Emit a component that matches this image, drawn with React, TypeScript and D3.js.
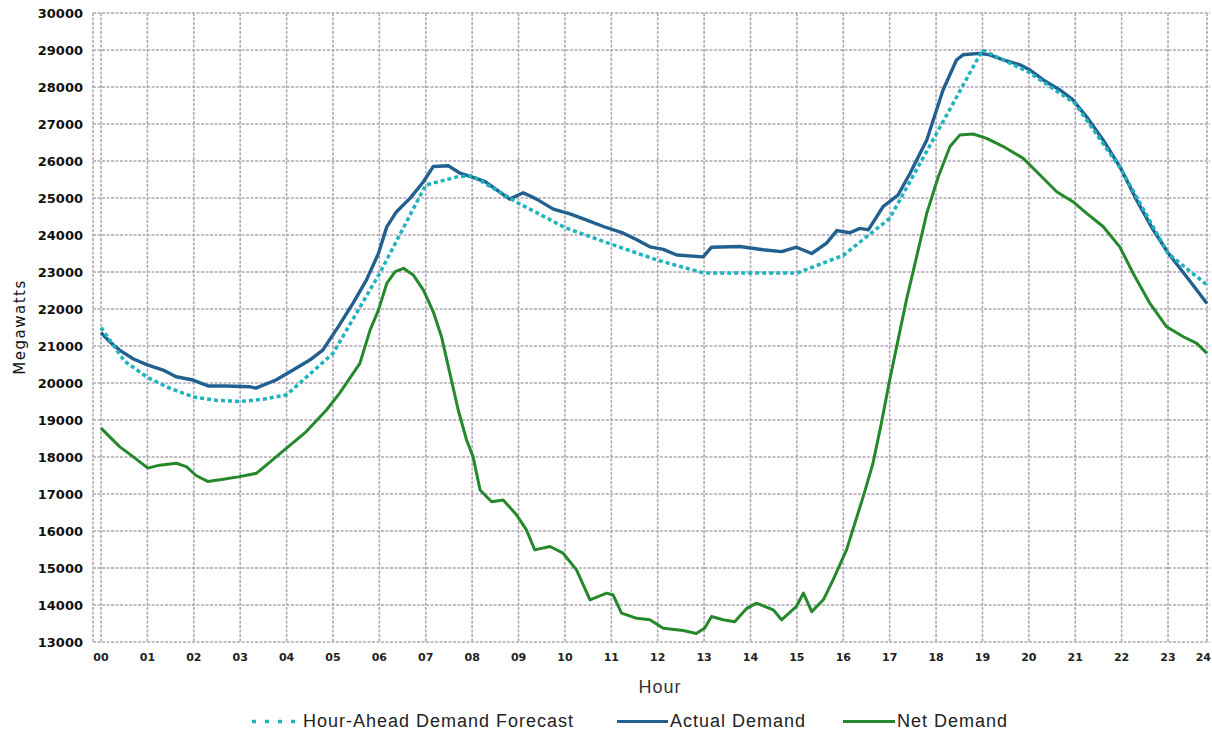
import React from "react";
import * as d3 from "d3";

const xTickLabels = ["00","01","02","03","04","05","06","07","08","09","10","11","12","13","14","15","16","17","18","19","20","21","22","23","24"];
const yTickValues = [13000,14000,15000,16000,17000,18000,19000,20000,21000,22000,23000,24000,25000,26000,27000,28000,29000,30000];

const forecastHours = [0,0.5,1,1.5,2,2.5,3,3.5,4,5,6,7,7.7,8,9,10,11,12,13,14,15,16,17,18,19,20,21,22,23,23.84];
const forecastValues = [21500,20600,20150,19850,19620,19530,19500,19560,19680,20800,22950,25350,25580,25600,24860,24200,23750,23320,22970,22970,22970,23450,24450,26720,29000,28400,27550,25750,23500,22650];

const actualHours = [0,0.2,0.4,0.7,1.0,1.34,1.62,1.98,2.31,2.7,3.2,3.34,3.77,4.14,4.5,4.78,5.14,5.43,5.72,5.98,6.16,6.37,6.66,6.95,7.16,7.49,7.74,8.02,8.28,8.53,8.81,9.10,9.39,9.75,10.11,10.47,10.83,11.26,11.55,11.83,12.12,12.41,12.98,13.16,13.77,14.27,14.67,14.99,15.32,15.64,15.86,16.14,16.36,16.54,16.86,17.18,17.44,17.80,18.15,18.44,18.58,18.94,19.16,19.45,19.81,20.02,20.31,20.67,20.95,21.24,21.60,21.96,22.32,22.68,23.01,23.40,23.84];
const actualValues = [21360,21100,20890,20650,20490,20350,20170,20080,19920,19920,19900,19860,20080,20350,20620,20890,21570,22150,22780,23500,24220,24630,24990,25440,25850,25870,25670,25560,25440,25220,24970,25140,24970,24700,24570,24400,24230,24050,23870,23680,23610,23460,23410,23670,23690,23600,23550,23670,23500,23780,24120,24060,24180,24140,24770,25080,25670,26570,27920,28730,28870,28910,28870,28730,28600,28460,28190,27920,27650,27200,26570,25850,24950,24140,23500,22870,22150];

const netHours = [0,0.4,0.69,1.01,1.26,1.62,1.84,2.05,2.3,2.6,2.99,3.35,3.78,4.42,4.86,5.14,5.58,5.80,5.98,6.16,6.34,6.52,6.73,6.95,7.16,7.34,7.52,7.70,7.88,8.02,8.17,8.42,8.67,8.96,9.17,9.35,9.68,9.96,10.25,10.54,10.90,11.04,11.22,11.55,11.83,12.12,12.55,12.83,13.01,13.16,13.41,13.66,13.92,14.13,14.49,14.67,14.99,15.14,15.32,15.57,15.78,16.07,16.25,16.43,16.64,16.82,17.00,17.18,17.36,17.58,17.80,18.05,18.30,18.51,18.80,19.09,19.45,19.88,20.24,20.60,20.95,21.24,21.60,21.96,22.25,22.61,22.97,23.33,23.62,23.84];
const netValues = [18780,18280,18010,17700,17780,17830,17740,17500,17340,17390,17470,17560,18010,18680,19270,19720,20530,21430,21970,22690,23010,23100,22920,22510,21930,21250,20260,19270,18460,18010,17110,16790,16840,16430,16030,15490,15580,15400,14950,14140,14320,14270,13780,13640,13600,13370,13310,13230,13370,13690,13600,13550,13910,14050,13870,13600,13960,14320,13820,14140,14680,15490,16210,16930,17830,18910,20080,21160,22240,23410,24590,25580,26390,26700,26730,26610,26390,26070,25620,25170,24900,24590,24230,23680,22960,22150,21520,21250,21070,20800];

const seriesNames = ["Hour-Ahead Demand Forecast", "Actual Demand", "Net Demand"];

const W = 1212, H = 731;
const plotLeft = 93, plotRight = 1210, plotTop = 13, plotBottom = 642;
const xStart = 101, xEnd = 1207;
const lastHour = 23.84;

const C_FORE = "#1fb3bd";
const C_ACT = "#22608f";
const C_NET = "#25892b";
const C_GRID = "#b0a8b6";

export default function App() {
  const x = d3.scaleLinear().domain([0, lastHour]).range([xStart, xEnd]);
  const y = d3.scaleLinear().domain([13000, 30000]).range([plotBottom, plotTop]);
  const tickHours = xTickLabels.map((_, i) => (i < 24 ? i : lastHour));

  const mk = (hs: number[], vs: number[]) =>
    d3.line<number>().x((_, i) => x(hs[i])).y((v) => y(v)).curve(d3.curveLinear)(vs) || "";

  const fPath = mk(forecastHours, forecastValues);
  const aPath = mk(actualHours, actualValues);
  const nPath = mk(netHours, netValues);

  const legendFont = { fontFamily: "'Liberation Sans', Arial, sans-serif", fontSize: 18, letterSpacing: 1, fill: "#222" };

  return (
    <svg width={W} height={H} style={{ position: "absolute", left: 0, top: 0, background: "#fff" }}>
      <rect x={0} y={0} width={W} height={H} fill="#fff" />
      {/* grid */}
      {yTickValues.map((v) => (
        <line key={"h" + v} x1={plotLeft} x2={plotRight} y1={y(v)} y2={y(v)} stroke={C_GRID} strokeWidth={1.6} strokeDasharray="3 1.5" />
      ))}
      {tickHours.map((h, i) => (
        <line key={"v" + i} x1={x(h)} x2={x(h)} y1={plotTop} y2={plotBottom} stroke={C_GRID} strokeWidth={1.6} strokeDasharray="3 1.5" />
      ))}
      <line x1={plotLeft} x2={plotLeft} y1={plotTop} y2={plotBottom} stroke={C_GRID} strokeWidth={1.6} strokeDasharray="3 1.5" />

      {/* y labels */}
      {yTickValues.map((v) => (
        <text key={"yl" + v} x={83} y={y(v) + 5} textAnchor="end" fontFamily="'DejaVu Sans', sans-serif" fontWeight="bold" fontSize={13} fill="#111">
          {d3.format("d")(v)}
        </text>
      ))}
      {/* x labels */}
      {tickHours.map((h, i) => (
        <text key={"xl" + i} x={i < 24 ? x(h) : 1211} y={661} textAnchor={i < 24 ? "middle" : "end"} fontFamily="'DejaVu Sans', sans-serif" fontWeight="bold" fontSize={11} fill="#222">
          {xTickLabels[i]}
        </text>
      ))}

      {/* axis titles */}
      <text transform="translate(25,327) rotate(-90)" textAnchor="middle" fontFamily="'DejaVu Sans', sans-serif" fontSize={15} letterSpacing={1.5} fill="#111">
        Megawatts
      </text>
      <text x={660} y={693} textAnchor="middle" {...legendFont} fill="#333">Hour</text>

      {/* series */}
      <path d={nPath} fill="none" stroke={C_NET} strokeWidth={3} strokeLinejoin="round" />
      <path d={aPath} fill="none" stroke={C_ACT} strokeWidth={3.4} strokeLinejoin="round" />
      <path d={fPath} fill="none" stroke={C_FORE} strokeWidth={3.5} strokeDasharray="4 3" />

      {/* legend */}
      <line x1={252} x2={302} y1={721.5} y2={721.5} stroke={C_FORE} strokeWidth={3.5} strokeDasharray="4 9" />
      <text x={303} y={727} {...legendFont}>{seriesNames[0]}</text>
      <line x1={617} x2={668} y1={721.5} y2={721.5} stroke={C_ACT} strokeWidth={3} />
      <text x={670} y={727} {...legendFont}>{seriesNames[1]}</text>
      <line x1={843} x2={895} y1={721.5} y2={721.5} stroke={C_NET} strokeWidth={3} />
      <text x={897} y={727} {...legendFont}>{seriesNames[2]}</text>
    </svg>
  );
}
